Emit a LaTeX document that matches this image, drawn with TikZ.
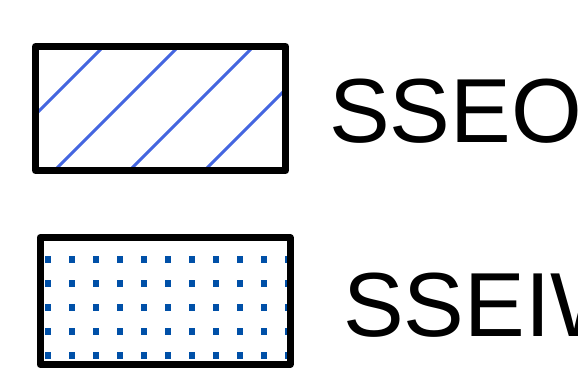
\documentclass[tikz,border=0pt]{standalone}
\usepackage{fontspec}
\setmainfont{Liberation Sans}
\definecolor{hatchblue}{HTML}{4466E0}
\definecolor{dotblue}{HTML}{0050A8}
\begin{document}
\begin{tikzpicture}[x=1pt,y=-1pt,
  legendbox/.style={draw=black,line width=7pt,line join=round},
  hatchline/.style={draw=hatchblue,line width=3pt},
  dotsq/.style={fill=dotblue},
  legendtext/.style={inner sep=0pt,anchor=base west,font=\fontsize{91}{100}\selectfont}]
\useasboundingbox (0,0) rectangle (578,383);
\clip (0,0) rectangle (578,383);
% top box: hatched
\begin{scope}
  \clip (35.5,46.5) rectangle (285.5,170.5);
  \foreach \c in {150,225,300,375} {
    \draw[hatchline] (\c-20,20) -- (\c-200,200);
  }
\end{scope}
\draw[legendbox] (35.5,46.5) rectangle (285.5,170.5);
\node[legendtext] (sseo) at (329,142) {SSEO};
% bottom box: dotted
\begin{scope}
  \clip (40,237.5) rectangle (290,364.5);
  \foreach \i in {0,...,10} {
    \foreach \j in {0,...,4} {
      \fill[dotsq] ({48+24*\i-3.25},{259.3+24*\j-3.25}) rectangle ++(6.5,6.5);
    }
  }
\end{scope}
\draw[legendbox] (40,237.5) rectangle (290,364.5);
\node[legendtext] (sseiw) at (343,336) {SSEIW};
\end{tikzpicture}
\end{document}
